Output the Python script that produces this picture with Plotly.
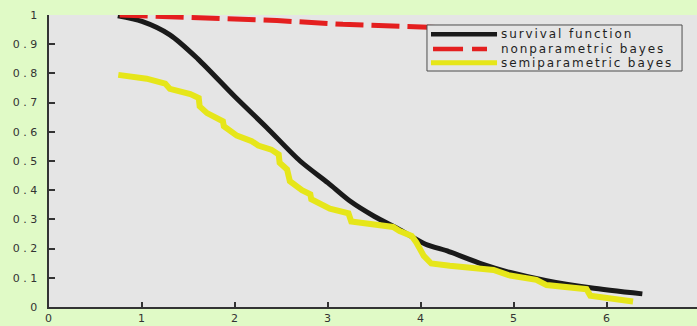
import plotly.graph_objects as go

# --- data -------------------------------------------------------------
surv_x = [0.74, 1.0, 1.3, 1.6, 2.0, 2.34, 2.7, 3.0, 3.24, 3.5, 3.77, 4.05,
          4.3, 4.65, 4.96, 5.35, 5.82, 6.38]
surv_y = [0.997, 0.978, 0.932, 0.85, 0.72, 0.615, 0.50, 0.425, 0.362, 0.31,
          0.265, 0.215, 0.19, 0.148, 0.118, 0.09, 0.066, 0.045]

nonpar_x = [0.76, 1.73, 2.45, 3.16, 4.03, 5.0, 6.0, 6.38]
nonpar_y = [1.0, 0.991, 0.981, 0.968, 0.957, 0.948, 0.94, 0.937]

semi_x = [0.745, 1.05, 1.25, 1.30, 1.52, 1.61, 1.62, 1.70, 1.87, 1.88, 2.02,
          2.18, 2.25, 2.39, 2.47, 2.48, 2.56, 2.59, 2.72, 2.81, 2.82, 3.02,
          3.22, 3.25, 3.70, 3.77, 3.90, 3.95, 4.03, 4.11, 4.31, 4.78, 4.94,
          5.24, 5.35, 5.78, 5.82, 6.28]
semi_y = [0.795, 0.782, 0.765, 0.747, 0.729, 0.716, 0.687, 0.664, 0.636, 0.619,
          0.587, 0.568, 0.553, 0.539, 0.522, 0.494, 0.471, 0.431, 0.400, 0.386,
          0.369, 0.337, 0.321, 0.293, 0.274, 0.260, 0.243, 0.221, 0.175, 0.149,
          0.141, 0.127, 0.109, 0.093, 0.075, 0.061, 0.039, 0.019]

series_names = ["survival function", "nonparametric bayes", "semiparametric bayes"]

x_ticks = [0, 1, 2, 3, 4, 5, 6, 7]
x_tick_labels = ["0", "1", "2", "3", "4", "5", "6", "7"]
y_ticks = [0, 0.1, 0.2, 0.3, 0.4, 0.5, 0.6, 0.7, 0.8, 0.9, 1.0]
y_tick_labels = ["0", "0.1", "0.2", "0.3", "0.4", "0.5", "0.6", "0.7", "0.8", "0.9", "1"]

# --- style ------------------------------------------------------------
BLACK = "#1a1a1a"
RED = "#e41f1f"
YELLOW = "#e6e61a"
PAPER = "#e0fac6"
PLOT_BG = "#e5e5e5"
AXIS = "#333333"
FONT = "DejaVu Sans"


def spaced(text, px):
    return f'<span style="letter-spacing:{px}px">{text}</span>'


fig = go.Figure()
fig.add_trace(go.Scatter(x=surv_x, y=surv_y, mode="lines", name=series_names[0],
                         line=dict(color=BLACK, width=5, shape="spline", smoothing=0.8),
                         showlegend=False))
fig.add_trace(go.Scatter(x=nonpar_x, y=nonpar_y, mode="lines", name=series_names[1],
                         line=dict(color=RED, width=5, dash="28px,8px"),
                         cliponaxis=False, showlegend=False))
fig.add_trace(go.Scatter(x=semi_x, y=semi_y, mode="lines", name=series_names[2],
                         line=dict(color=YELLOW, width=6), showlegend=False))

# --- legend box (paper coordinates) -----------------------------------
box = dict(x0=0.5806, x1=0.9724, y0=0.8082, y1=0.9658)
rows = [0.9339, 0.8836, 0.8366]
sample_x0, sample_x1 = 0.5868, 0.6882
text_x = 0.6912

shapes = [dict(type="rect", xref="paper", yref="paper", layer="above",
               fillcolor=PLOT_BG, line=dict(color="#4d4d4d", width=1), **box)]
samples = [
    dict(color=BLACK, width=4.5, dash="solid"),
    dict(color=RED, width=4.5, dash="30px,9px"),
    dict(color=YELLOW, width=5, dash="solid"),
]
for ry, st in zip(rows, samples):
    x0 = sample_x0 if st["dash"] == "solid" else 0.5899
    x1 = sample_x1 if st["dash"] == "solid" else 0.6728
    shapes.append(dict(type="line", xref="paper", yref="paper", layer="above",
                       x0=x0, x1=x1, y0=ry, y1=ry, line=st))

annotations = []
for ry, name in zip(rows, series_names):
    annotations.append(dict(xref="paper", yref="paper", x=text_x, y=ry,
                            xanchor="left", yanchor="middle", showarrow=False,
                            text=spaced(name, 1.9),
                            font=dict(family=FONT, size=12, color="#1f1f1f")))

fig.update_layout(
    width=700, height=326,
    margin=dict(l=49, r=0, t=15, b=19, pad=0),
    paper_bgcolor=PAPER, plot_bgcolor=PLOT_BG,
    template="none",
    showlegend=False,
    shapes=shapes,
    annotations=annotations,
    xaxis=dict(range=[0, 7], tickvals=x_ticks,
               ticktext=[spaced(t, 1) for t in x_tick_labels],
               showline=True, linecolor=AXIS, linewidth=2,
               ticks="inside", ticklen=5, tickwidth=2, tickcolor=AXIS,
               showgrid=False, zeroline=False, automargin=False,
               ticklabelstandoff=0,
               tickfont=dict(family=FONT, size=11, color="#333333")),
    yaxis=dict(range=[0, 1], tickvals=y_ticks,
               ticktext=[spaced(t, 3.5) for t in y_tick_labels],
               showline=True, linecolor=AXIS, linewidth=2,
               ticks="inside", ticklen=6, tickwidth=1.5, tickcolor=AXIS,
               showgrid=False, zeroline=False, automargin=False,
               ticklabelstandoff=4,
               tickfont=dict(family=FONT, size=11, color="#333333")),
)

fig.write_html(
    "out.html",
    config={"displayModeBar": False},
    post_script="document.documentElement.style.overflow='hidden';"
                "document.body.style.overflow='hidden';",
)
